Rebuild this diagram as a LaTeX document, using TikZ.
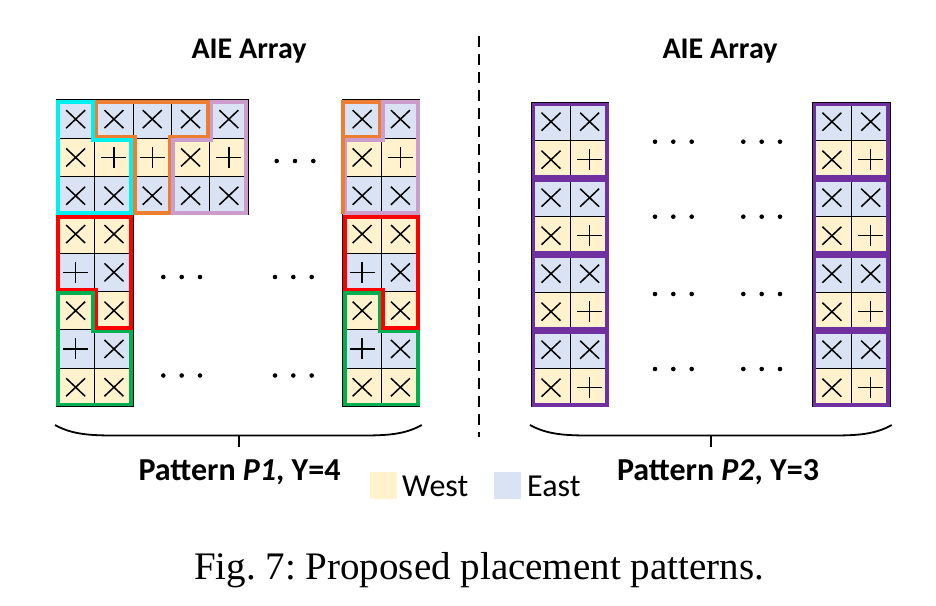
\documentclass[tikz,border=0pt]{standalone}
\usepackage{fontspec}
\setmainfont{Carlito}
\newfontfamily\capfont{Liberation Serif}
\frenchspacing
\definecolor{cW}{HTML}{FFF2CC}
\definecolor{cE}{HTML}{DAE3F3}
\definecolor{ocyan}{HTML}{00F0F0}
\definecolor{oorange}{HTML}{ED7D31}
\definecolor{opink}{HTML}{CC9CCC}
\definecolor{ored}{HTML}{FF0000}
\definecolor{ogreen}{HTML}{00B050}
\definecolor{opurple}{HTML}{7030A0}
\tikzset{
  gridline/.style={black, line width=1.1pt},
  symline/.style={black, line width=1.5pt},
  region/.style={line width=3.7pt, line join=miter},
  ttl/.style={inner sep=0pt, font=\bfseries\fontsize{30}{36}\selectfont},
  lbl/.style={inner sep=0pt, font=\bfseries\fontsize{32}{38}\selectfont},
  leg/.style={inner sep=0pt, font=\fontsize{32}{38}\selectfont},
  legbox/.style={inner sep=0pt, minimum size=27pt, anchor=north west},
  dot/.style={circle, fill=black, inner sep=0pt, minimum size=4.6pt},
  brace/.style={black, line width=1.8pt}
}
\newcommand\symx{\draw[symline] ({\xm-9.5},{\ym-9}) -- ({\xm+9.5},{\ym+9}) ({\xm-9.5},{\ym+9}) -- ({\xm+9.5},{\ym-9});}
\newcommand\symp{\draw[symline] ({\xm-12.5},\ym) -- ({\xm+12.5},\ym) (\xm,{\ym-10.5}) -- (\xm,{\ym+10.5});}
\newcommand\aieblock[5]{%
  \foreach \c/\r/\f/\s in {#5} {
    \pgfmathsetmacro\xa{#1+\c*#3}
    \pgfmathsetmacro\ya{#2+\r*#4}
    \fill[c\f] (\xa,\ya) rectangle ++(#3,#4);
  }
  \foreach \c/\r/\f/\s in {#5} {
    \pgfmathsetmacro\xa{#1+\c*#3}
    \pgfmathsetmacro\ya{#2+\r*#4}
    \pgfmathsetmacro\xm{\xa+#3/2}
    \pgfmathsetmacro\ym{\ya+#4/2}
    \draw[gridline] (\xa,\ya) rectangle ++(#3,#4);
    \csname sym\s\endcsname
  }
}
\begin{document}
\begin{tikzpicture}[x=1pt,y=-1pt]
\useasboundingbox (0,0) rectangle (936,605);
\fill[white] (0,0) rectangle (936,605);

% ---- Pattern P1, left block
\aieblock{56.5}{100}{38.3}{38.3}{
0/0/E/x,1/0/E/x,2/0/E/x,3/0/E/x,4/0/E/x,
0/1/W/x,1/1/W/p,2/1/W/p,3/1/W/x,4/1/W/p,
0/2/E/x,1/2/E/x,2/2/E/x,3/2/E/x,4/2/E/x,
0/3/W/x,1/3/W/x,
0/4/E/p,1/4/E/x,
0/5/W/x,1/5/W/x,
0/6/E/p,1/6/E/x,
0/7/W/x,1/7/W/x}
% ---- Pattern P1, right block
\aieblock{343}{100}{38.3}{38.3}{
0/0/E/x,1/0/E/x,
0/1/W/x,1/1/W/p,
0/2/E/x,1/2/E/x,
0/3/W/x,1/3/W/x,
0/4/E/p,1/4/E/x,
0/5/W/x,1/5/W/x,
0/6/E/p,1/6/E/x,
0/7/W/x,1/7/W/x}
% ---- Pattern P2 blocks
\aieblock{531.7}{102.7}{38.6}{38}{
0/0/E/x,1/0/E/x,0/1/W/x,1/1/W/p,
0/2/E/x,1/2/E/x,0/3/W/x,1/3/W/p,
0/4/E/x,1/4/E/x,0/5/W/x,1/5/W/p,
0/6/E/x,1/6/E/x,0/7/W/x,1/7/W/p}
\aieblock{812.5}{102.7}{38.8}{38}{
0/0/E/x,1/0/E/x,0/1/W/x,1/1/W/p,
0/2/E/x,1/2/E/x,0/3/W/x,1/3/W/p,
0/4/E/x,1/4/E/x,0/5/W/x,1/5/W/p,
0/6/E/x,1/6/E/x,0/7/W/x,1/7/W/p}

% ---- P1 region outlines (left block)
\draw[region, opink] (211.5,101.8) -- (246.2,101.8) -- (246.2,213.1) -- (173.2,213.1) -- (173.2,140.1) -- (211.5,140.1) -- cycle;
\draw[region, ocyan] (58.3,101.8) -- (93.0,101.8) -- (93.0,140.1) -- (131.3,140.1) -- (131.3,213.1) -- (58.3,213.1) -- cycle;
\draw[region, oorange] (96.6,101.8) -- (207.9,101.8) -- (207.9,136.5) -- (169.6,136.5) -- (169.6,213.1) -- (134.9,213.1) -- (134.9,136.5) -- (96.6,136.5) -- cycle;
\draw[region, ored] (58.3,216.7) -- (131.3,216.7) -- (131.3,328.0) -- (96.6,328.0) -- (96.6,289.7) -- (58.3,289.7) -- cycle;
\draw[region, ogreen] (58.3,293.3) -- (93.0,293.3) -- (93.0,331.6) -- (131.3,331.6) -- (131.3,404.6) -- (58.3,404.6) -- cycle;
% ---- P1 region outlines (right block)
\draw[region, opink] (383.1,101.8) -- (417.8,101.8) -- (417.8,213.1) -- (345.2,213.1) -- (345.2,140.1) -- (383.1,140.1) -- cycle;
\draw[region, oorange] (343,214) -- (343,101.8) -- (379.5,101.8) -- (379.5,136.5) -- (343,136.5);
\draw[region, ored] (344.8,216.7) -- (417.8,216.7) -- (417.8,328.0) -- (383.1,328.0) -- (383.1,289.7) -- (344.8,289.7) -- cycle;
\draw[region, ogreen] (344.8,293.3) -- (379.5,293.3) -- (379.5,331.6) -- (417.8,331.6) -- (417.8,404.6) -- (344.8,404.6) -- cycle;
% ---- P2 outlines
\foreach \k in {0,1,2,3} {
  \pgfmathsetmacro\ta{102.7+\k*76+1.9}
  \pgfmathsetmacro\tb{102.7+\k*76+76-1.9}
  \draw[region, opurple] (533.6,\ta) rectangle (607.0,\tb);
  \draw[region, opurple] (814.4,\ta) rectangle (888.2,\tb);
}

% ---- dots
\foreach \xx/\yy [count=\i] in {276.7/161, 295/161, 313.3/161,
  163.3/277, 181.7/277, 200/277, 275/277, 293.3/277, 311.7/277,
  163.3/375.5, 181.7/375.5, 200/375.5, 275/375.5, 293.3/375.5, 311.7/375.5}
  \node[dot] (da\i) at (\xx,\yy) {};
\foreach \yy [count=\j] in {141.7, 216.7, 294, 369} {
  \foreach \xx [count=\i] in {655, 673.3, 691.7, 743.3, 761.7, 780}
    \node[dot] (db\j\i) at (\xx,\yy) {};
}

% ---- dashed separator
\coordinate (s1) at (479,36);
\coordinate (s2) at (479,437);
\draw[black, line width=1.2pt, dash pattern=on 11pt off 7pt] (s1) -- (s2);

% ---- braces
\coordinate (b1) at (239,447);
\draw[brace] (55,425) .. controls (72,434.5) and (90,435.5) .. (115,435.5) -- (362,435.5) .. controls (387,435.5) and (405,434.5) .. (421.7,425);
\draw[brace] (239,435.5) -- (b1);
\coordinate (b2) at (711,447);
\draw[brace] (530,425) .. controls (547,434.5) and (565,435.5) .. (590,435.5) -- (832,435.5) .. controls (857,435.5) and (875,434.5) .. (891.7,425);
\draw[brace] (711,435.5) -- (b2);

% ---- texts
\node[ttl, anchor=base] (t1) at (249,58) {AIE Array};
\node[ttl, anchor=base] (t2) at (720,58) {AIE Array};
\node[lbl, anchor=base] (p1) at (239.5,480) {Pattern \textit{P1}, Y=4};
\node[lbl, anchor=base] (p2) at (718,480) {Pattern \textit{P2}, Y=3};
\node[legbox, fill=cW] (lw) at (370,471.7) {};
\node[leg, anchor=base west] (tw) at (402,496) {West};
\node[legbox, fill=cE] (le) at (493.5,471.7) {};
\node[leg, anchor=base west] (te) at (527,496) {East};
\node[inner sep=0pt, anchor=base, font=\capfont\fontsize{39}{44}\selectfont] (cap) at (479,579) {Fig. 7: Proposed placement patterns.};
\end{tikzpicture}
\end{document}
